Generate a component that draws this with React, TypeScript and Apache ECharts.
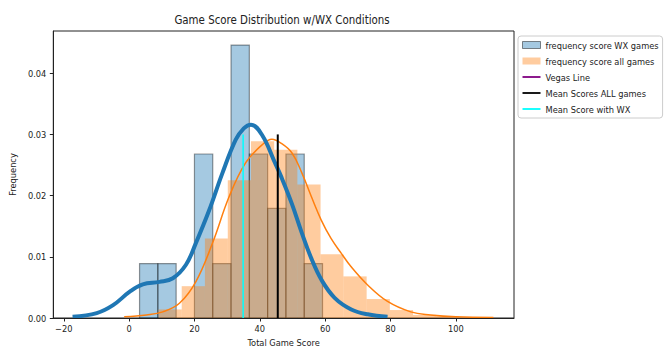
import React, { useEffect, useRef } from "react";
import * as echarts from "echarts";

// Histogram of total scores for games with weather (WX) conditions (density)
const wxBinEdges = [3.2, 8.8, 14.4, 20.0, 25.6, 31.2, 36.8, 42.4, 48.0, 53.6, 59.2];
const wxDensity = [0.0089, 0.0089, 0, 0.0268, 0.0089, 0.0446, 0.0268, 0.0179, 0.0268, 0.0089];

// Histogram of total scores for all games (density)
const allBinEdges = [9.0, 16.1, 23.2, 30.2, 37.3, 44.4, 51.5, 58.6, 65.6, 72.7, 79.8, 86.9, 94.0, 101.0];
const allDensity = [0.0014, 0.0052, 0.013, 0.0225, 0.0289, 0.0275, 0.0218, 0.0104, 0.0068, 0.0031, 0.0013, 0.0005, 0.0003];

// KDE curve, WX games
const wxKdeX = [-17.3, -9.9, -4.9, 0.2, 4.2, 9.3, 13.4, 17.4, 20.4, 24.5, 28.5, 32.6, 35.1, 37.3, 40.7, 44.7, 46.7, 49.8, 52.8, 55.8, 58.9, 62.9, 68.0, 73.0, 79.1];
const wxKdeY = [0.0002, 0.0008, 0.0021, 0.0043, 0.0055, 0.0059, 0.0065, 0.0087, 0.0122, 0.0176, 0.0236, 0.0291, 0.031, 0.0316, 0.0299, 0.0253, 0.0229, 0.0187, 0.014, 0.0097, 0.0062, 0.0033, 0.0014, 0.0006, 0.0002];

// KDE curve, all games
const allKdeX = [-1.5, 5.3, 10.3, 15.4, 20.4, 25.5, 30.6, 35.6, 40.7, 43.7, 46.7, 49.8, 52.8, 55.8, 58.8, 61.8, 64.9, 67.9, 73.0, 79.1, 86.2, 92.3, 100.0, 111.5];
const allKdeY = [0.0002, 0.0005, 0.001, 0.0024, 0.0059, 0.0122, 0.0198, 0.0253, 0.0283, 0.0292, 0.0285, 0.027, 0.0238, 0.0198, 0.016, 0.013, 0.0106, 0.0084, 0.0054, 0.0027, 0.001, 0.0005, 0.0002, 0.0001];

// Mean lines
const meanAllGames = 45.5;
const meanWxGames = 34.9;
const meanLineTop = 0.03;
const vegasLine: number[][] = [];

// Axis ticks
const xTicks = [-20, 0, 20, 40, 60, 80, 100];
const yTicks = [0, 0.01, 0.02, 0.03, 0.04];

const FONT = '"DejaVu Sans Condensed", "DejaVu Sans", sans-serif';
const TEXT = "#222222";

function toBins(edges: number[], dens: number[]) {
  return dens.map((d, i) => [edges[i], edges[i + 1], d]);
}

function histRenderer(fill: string, stroke: string | null, lineWidth: number) {
  return (_params: any, api: any) => {
    const h = api.value(2);
    if (!h) return null;
    const p0 = api.coord([api.value(0), h]);
    const p1 = api.coord([api.value(1), 0]);
    return {
      type: "rect",
      shape: { x: p0[0], y: p0[1], width: p1[0] - p0[0], height: p1[1] - p0[1] },
      style: stroke ? { fill, stroke, lineWidth } : { fill },
    };
  };
}

const lineIcon = "path://M0,0 L20,0 L20,2 L0,2 Z";

export default function App() {
  const ref = useRef<HTMLDivElement>(null);
  useEffect(() => {
    if (!ref.current) return;
    const chart = echarts.init(ref.current, null, { renderer: "svg" });
    const option: any = {
      animation: false,
      backgroundColor: "#ffffff",
      textStyle: { fontFamily: FONT },
      graphic: [
        {
          type: "text",
          x: 282,
          y: 20,
          style: {
            text: "Game Score Distribution w/WX Conditions",
            fontFamily: FONT,
            fontSize: 11.4,
            fill: TEXT,
            textAlign: "center",
            textVerticalAlign: "middle",
          },
        },
      ],
      grid: {
        left: 50,
        top: 31,
        width: 464,
        height: 287,
        show: true,
        borderColor: "#222222",
        borderWidth: 1,
        backgroundColor: "transparent",
      },
      legend: {
        orient: "vertical",
        left: 518,
        top: 36,
        padding: [1, 4, 1, 4],
        itemGap: 0,
        itemWidth: 18,
        itemHeight: 7,
        borderColor: "#cccccc",
        borderWidth: 1,
        borderRadius: 3,
        backgroundColor: "#ffffff",
        selectedMode: false,
        textStyle: { fontFamily: FONT, fontSize: 9.2, color: TEXT, lineHeight: 16 },
        data: [
          {
            name: "frequency score WX games",
            icon: "rect",
            itemStyle: { color: "rgba(31,119,180,0.4)", borderColor: "rgba(0,0,0,0.45)", borderWidth: 1 },
          },
          {
            name: "frequency score all games",
            icon: "rect",
            itemStyle: { color: "rgba(255,127,14,0.4)", borderWidth: 0 },
          },
          { name: "Vegas Line", icon: lineIcon, itemStyle: { color: "#800080", borderWidth: 0 } },
          { name: "Mean Scores ALL games", icon: lineIcon, itemStyle: { color: "#000000", borderWidth: 0 } },
          { name: "Mean Score with WX", icon: lineIcon, itemStyle: { color: "#00ffff", borderWidth: 0 } },
        ],
      },
      xAxis: {
        type: "value",
        min: -23.2,
        max: 117.8,
        z: 10,
        name: "Total Game Score",
        nameLocation: "middle",
        nameGap: 20,
        nameTextStyle: { fontFamily: FONT, fontSize: 9.2, color: TEXT },
        axisLine: { show: true, onZero: false, lineStyle: { color: "#222222", width: 1 } },
        axisTick: { show: true, inside: false, length: 3.5, customValues: xTicks, lineStyle: { color: "#222222", width: 1 } },
        axisLabel: { customValues: xTicks, margin: 6, fontFamily: FONT, fontSize: 9.2, color: TEXT, formatter: (v: number) => (v < 0 ? "\u2212" + Math.abs(v) : String(v)) },
        splitLine: { show: false },
      },
      yAxis: {
        type: "value",
        min: 0,
        max: 0.0469,
        z: 10,
        name: "Frequency",
        nameLocation: "middle",
        nameGap: 27,
        nameTextStyle: { fontFamily: FONT, fontSize: 9.2, color: TEXT },
        axisLine: { show: true, onZero: false, lineStyle: { color: "#222222", width: 1 } },
        axisTick: { show: true, inside: false, length: 3.5, customValues: yTicks, lineStyle: { color: "#222222", width: 1 } },
        axisLabel: { customValues: yTicks, margin: 7, fontFamily: FONT, fontSize: 9.2, color: TEXT, formatter: (v: number) => v.toFixed(2) },
        splitLine: { show: false },
      },
      series: [
        {
          name: "frequency score WX games",
          type: "custom",
          z: 2,
          renderItem: histRenderer("rgba(31,119,180,0.4)", "rgba(0,0,0,0.4)", 1.2),
          encode: { x: [0, 1], y: 2 },
          itemStyle: { color: "rgba(31,119,180,0.4)" },
          data: toBins(wxBinEdges, wxDensity),
        },
        {
          name: "frequency score all games",
          type: "custom",
          z: 3,
          renderItem: histRenderer("rgba(255,127,14,0.4)", null, 0),
          encode: { x: [0, 1], y: 2 },
          itemStyle: { color: "rgba(255,127,14,0.4)" },
          data: toBins(allBinEdges, allDensity),
        },
        {
          name: "kde all games",
          type: "line",
          z: 4,
          smooth: 0.4,
          showSymbol: false,
          symbol: "none",
          lineStyle: { color: "#ff7f0e", width: 1.5 },
          itemStyle: { color: "#ff7f0e" },
          data: allKdeX.map((x, i) => [x, allKdeY[i]]),
        },
        {
          name: "kde WX games",
          type: "line",
          z: 5,
          smooth: 0.4,
          showSymbol: false,
          symbol: "none",
          lineStyle: { color: "#1f77b4", width: 4 },
          itemStyle: { color: "#1f77b4" },
          data: wxKdeX.map((x, i) => [x, wxKdeY[i]]),
        },
        {
          name: "Vegas Line",
          type: "line",
          z: 6,
          symbol: "none",
          lineStyle: { color: "#800080", width: 2 },
          itemStyle: { color: "#800080" },
          data: vegasLine,
        },
        {
          name: "Mean Scores ALL games",
          type: "line",
          z: 6,
          symbol: "none",
          lineStyle: { color: "#000000", width: 2 },
          itemStyle: { color: "#000000" },
          data: [
            [meanAllGames, 0],
            [meanAllGames, meanLineTop],
          ],
        },
        {
          name: "Mean Score with WX",
          type: "line",
          z: 6,
          symbol: "none",
          lineStyle: { color: "#00ffff", width: 1.5 },
          itemStyle: { color: "#00ffff" },
          data: [
            [meanWxGames, 0],
            [meanWxGames, meanLineTop],
          ],
        },
      ],
    };
    chart.setOption(option);
    return () => chart.dispose();
  }, []);
  return (
    <div
      ref={ref}
      style={{ position: "fixed", left: 0, top: 0, width: 672, height: 361, background: "#ffffff" }}
    />
  );
}
